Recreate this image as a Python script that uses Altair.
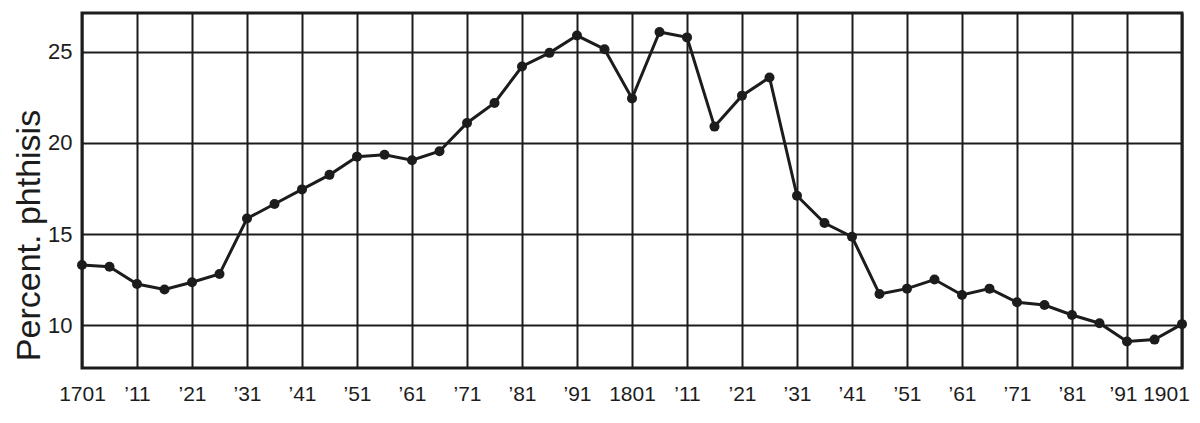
import altair as alt
import pandas as pd

years = [1701, 1706, 1711, 1716, 1721, 1726, 1731, 1736, 1741, 1746,
         1751, 1756, 1761, 1766, 1771, 1776, 1781, 1786, 1791, 1796,
         1801, 1806, 1811, 1816, 1821, 1826, 1831, 1836, 1841, 1846,
         1851, 1856, 1861, 1866, 1871, 1876, 1881, 1886, 1891, 1896, 1901]
phthisis = [13.3, 13.2, 12.25, 11.95, 12.35, 12.8, 15.85, 16.65, 17.45, 18.25,
            19.25, 19.35, 19.05, 19.55, 21.1, 22.2, 24.2, 24.95, 25.9, 25.15,
            22.45, 26.1, 25.8, 20.9, 22.6, 23.6, 17.1, 15.6, 14.85, 11.7,
            12.0, 12.5, 11.65, 12.0, 11.25, 11.1, 10.55, 10.1, 9.1, 9.2, 10.05]
tick_years = [1701, 1711, 1721, 1731, 1741, 1751, 1761, 1771, 1781, 1791,
              1801, 1811, 1821, 1831, 1841, 1851, 1861, 1871, 1881, 1891, 1901]
tick_labels = ["1701", "’11", "’21", "’31", "’41", "’51", "’61", "’71", "’81", "’91",
               "1801", "’11", "’21", "’31", "’41", "’51", "’61", "’71", "’81", "’91", "1901"]
y_ticks = [10, 15, 20, 25]

df = pd.DataFrame({"year": years, "pct": phthisis})

label_expr = ("[" + ",".join(f"'{t}'" for t in tick_labels) + "]"
              + f"[round((datum.value-{tick_years[0]})/10)]")

INK = "#1c1c1c"
FONT = "Liberation Sans"

x = alt.X(
    "year:Q",
    scale=alt.Scale(domain=[1701, 1901], nice=False, zero=False),
    axis=alt.Axis(
        values=tick_years, labelExpr=label_expr, grid=True, gridColor=INK,
        gridWidth=2, gridOpacity=1, ticks=False, domain=False,
        labelFont=FONT, labelFontSize=21, labelColor=INK, labelPadding=15,
        labelOverlap=False, labelFlush=False, labelBound=False,
        labelOffset={"condition": [
            {"test": "datum.value == 1901", "value": -16},
            {"test": "datum.value == 1891", "value": -4},
        ], "value": 0},
        title=None,
    ),
)
y = alt.Y(
    "pct:Q",
    scale=alt.Scale(domain=[7.64, 27.14], nice=False, zero=False),
    axis=alt.Axis(
        values=y_ticks, grid=True, gridColor=INK, gridWidth=2, gridOpacity=1,
        ticks=False, domain=False, labelFont=FONT, labelFontSize=22,
        labelColor=INK, labelPadding=10,
        title="Percent. phthisis", titleFont=FONT, titleFontSize=34,
        titleFontWeight="normal", titleColor=INK, titleAngle=270,
        titleX=-43, titleY=222, titleAlign="center", titleBaseline="alphabetic",
    ),
)

base = alt.Chart(df)
line = base.mark_line(color=INK, strokeWidth=3).encode(x=x, y=y)
pts = base.mark_point(filled=True, color=INK, size=100, opacity=1).encode(x=x, y=y)

chart = (
    alt.layer(line, pts)
    .properties(
        width=1100, height=355,
        autosize=alt.AutoSizeParams(type="none"),
        padding={"left": 74, "top": 5, "right": 10, "bottom": 40},
        background="white",
    )
    .configure_view(stroke=INK, strokeWidth=3)
)

chart.save("out.html", embed_options={"renderer": "svg", "actions": False})
